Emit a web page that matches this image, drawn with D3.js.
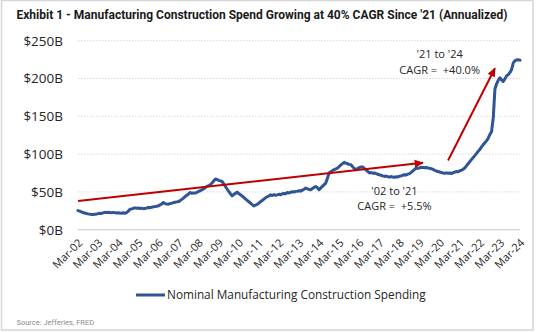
<!DOCTYPE html>
<html>
<head>
<meta charset="utf-8">
<script src="https://cdn.jsdelivr.net/npm/d3@7"></script>
<style>
  html, body { margin: 0; padding: 0; background: #fff; }
  svg { display: block; }
  .note { white-space: pre; }
</style>
</head>
<body>
<svg id="chart" width="536" height="332"></svg>
<script>
const title = "Exhibit 1 - Manufacturing Construction Spend Growing at 40% CAGR Since '21 (Annualized)"
const seriesName = "Nominal Manufacturing Construction Spending"
const sourceNote = "Source: Jefferies, FRED"

// monthly, $B annualized, starting Mar-02 (one row per Mar..Feb year)
const firstMonth = "2002-03"
const spending = [
  25.3, 24.5, 23.6, 22.8, 22.0, 21.4, 20.9, 20.6, 20.2, 20.0, 20.3, 20.6,
  21.2, 21.8, 21.5, 22.3, 23.0, 22.6, 23.1, 22.8, 22.3, 22.9, 22.6, 22.2,
  22.5, 22.0, 21.8, 22.4, 21.8, 22.6, 24.5, 27.0, 27.6, 28.3, 28.9, 28.4,
  28.6, 28.1, 28.5, 27.8, 28.0, 28.9, 29.4, 29.0, 29.8, 30.3, 30.6, 31.0,
  31.6, 32.8, 34.0, 36.0, 34.5, 33.9, 33.8, 34.6, 35.2, 35.9, 36.4, 36.8,
  37.2, 38.5, 40.1, 41.8, 43.9, 45.6, 47.3, 49.2, 48.1, 48.6, 48.4, 49.5,
  50.6, 51.5, 52.8, 54.0, 55.6, 57.4, 58.2, 59.4, 61.8, 64.5, 67.0, 66.4,
  65.2, 64.6, 63.8, 60.5, 57.2, 53.8, 50.5, 47.6, 44.8, 46.5, 48.2, 49.7,
  47.9, 46.3, 44.6, 42.6, 40.8, 38.9, 37.0, 35.1, 33.2, 31.5, 32.6, 33.4,
  35.2, 37.0, 38.6, 40.4, 42.2, 43.5, 44.6, 46.1, 45.2, 46.3, 45.6, 46.1,
  46.8, 46.2, 47.5, 48.0, 47.6, 49.2, 48.6, 49.5, 50.2, 49.8, 50.7, 51.0,
  51.5, 51.0, 52.3, 53.6, 55.0, 54.1, 53.2, 52.8, 54.6, 56.0, 57.2, 55.4,
  52.8, 55.3, 57.4, 59.6, 61.7, 68.5, 75.0, 76.8, 78.3, 79.5, 80.6, 81.6,
  83.5, 85.8, 87.4, 89.1, 88.0, 87.2, 86.4, 86.0, 83.2, 81.0, 79.4, 80.8,
  82.1, 83.0, 83.0, 81.2, 79.0, 77.0, 75.0, 75.6, 74.8, 75.0, 74.1, 73.3,
  72.6, 72.0, 71.2, 70.5, 70.9, 70.1, 69.5, 70.3, 69.6, 69.2, 70.0, 69.7,
  70.8, 71.2, 72.0, 72.7, 72.3, 73.5, 74.2, 75.8, 77.9, 79.8, 81.6, 81.0,
  81.8, 82.6, 82.4, 81.9, 82.3, 81.6, 81.2, 80.7, 79.8, 78.6, 77.7, 77.0,
  76.3, 75.6, 75.1, 74.5, 75.2, 74.6, 75.0, 74.3, 75.4, 76.1, 77.0, 76.5,
  78.0, 78.6, 80.0, 81.6, 84.4, 87.2, 90.1, 92.7, 95.4, 98.0, 100.9, 103.7,
  106.0, 109.5, 112.3, 114.9, 117.5, 121.0, 126.0, 130.0, 148.0, 186.0, 193.0, 198.0,
  201.0, 198.0, 196.0, 199.5, 203.5, 205.0, 208.0, 212.0, 221.0, 223.5, 224.5, 224.7,
  224.3
]

const xTickLabels = ["Mar-02", "Mar-03", "Mar-04", "Mar-05", "Mar-06", "Mar-07", "Mar-08",
  "Mar-09", "Mar-10", "Mar-11", "Mar-12", "Mar-13", "Mar-14", "Mar-15", "Mar-16", "Mar-17",
  "Mar-18", "Mar-19", "Mar-20", "Mar-21", "Mar-22", "Mar-23", "Mar-24"]
const yTicks = [0, 50, 100, 150, 200, 250]

// CAGR arrows and their notes, in [month, $B]
const arrows = [
  {from: ["2002-03", 38], to: ["2019-05", 88.5]},
  {from: ["2020-08", 91.5], to: ["2022-12", 213.5]}
]
const notes = [
  {at: ["2020-03", 227], lines: ["'21 to '24", "CAGR =  +40.0%"]},
  {at: ["2017-12", 46], lines: ["'02 to '21", "CAGR =  +5.5%"]}
]

const blue = '#2F5597'
const red = '#C00000'
const labelFont = "'Open Sans', 'Noto Sans', sans-serif"

const parseMonth = d3.timeParse('%Y-%m')
const parseTick = d3.timeParse('%b-%y')
const start = parseMonth(firstMonth)

const data = spending.map((v, i) => ({date: d3.timeMonth.offset(start, i), value: v}))

const x = d3.scaleTime()
  .domain([parseTick(xTickLabels[0]), parseTick(xTickLabels[xTickLabels.length - 1])])
  .range([78, 520])
const y = d3.scaleLinear().domain([0, 250]).range([229.7, 40.7])

const svg = d3.select('#chart')

svg.append('rect')
  .attr('x', 1.5).attr('y', 0.5)
  .attr('width', 531.5).attr('height', 329.5)
  .attr('fill', '#fff')
  .attr('stroke', '#d6d6d6')
  .attr('stroke-width', 1.5)

svg.append('text')
  .attr('x', 16.5).attr('y', 18.5)
  .attr('font-family', 'Roboto, sans-serif')
  .attr('font-weight', 700)
  .attr('font-size', 12)
  .attr('fill', '#1a1a1a')
  .text(title)

// gridlines
svg.append('g')
  .selectAll('line')
  .data(yTicks)
  .join('line')
  .attr('x1', x.range()[0]).attr('x2', x.range()[1])
  .attr('y1', d => y(d)).attr('y2', d => y(d))
  .attr('stroke', '#d9d9d9')
  .attr('stroke-width', d => d == 0 ? 1.5 : 1)
  .attr('stroke-dasharray', d => d == 0 ? null : '1.5,1.5')

// y axis
const yAxis = svg.append('g')
  .attr('transform', `translate(${x.range()[0]},0)`)
  .call(d3.axisLeft(y).tickValues(yTicks).tickSize(0).tickPadding(15).tickFormat(d => `$${d}B`))
yAxis.select('.domain').remove()
yAxis.selectAll('text')
  .attr('font-family', labelFont)
  .attr('font-size', 13.5)
  .attr('fill', '#262626')

// x axis
const xAxis = svg.append('g')
  .attr('transform', `translate(0,${y(0)})`)
  .call(d3.axisBottom(x)
    .tickValues(xTickLabels.map(parseTick))
    .tickSize(0)
    .tickFormat((d, i) => xTickLabels[i]))
xAxis.select('.domain').remove()
xAxis.selectAll('.tick text')
  .attr('font-family', labelFont)
  .attr('font-size', 11)
  .attr('fill', '#262626')
  .attr('text-anchor', 'end')
  .attr('x', 0).attr('y', 0).attr('dy', '0.35em')
  .attr('transform', 'translate(2,11) rotate(-45)')

// spending line
const line = d3.line()
  .x(d => x(d.date))
  .y(d => y(d.value))

svg.append('path')
  .datum(data)
  .attr('fill', 'none')
  .attr('stroke', blue)
  .attr('stroke-width', 3)
  .attr('stroke-linejoin', 'round')
  .attr('stroke-linecap', 'round')
  .attr('d', line)

// arrows
svg.append('defs').append('marker')
  .attr('id', 'head')
  .attr('viewBox', '0 -5 10 10')
  .attr('refX', 9).attr('refY', 0)
  .attr('markerUnits', 'userSpaceOnUse')
  .attr('markerWidth', 10).attr('markerHeight', 9)
  .attr('orient', 'auto')
  .append('path')
  .attr('d', 'M0,-4.5L10,0L0,4.5Z')
  .attr('fill', red)

svg.append('g')
  .selectAll('line')
  .data(arrows)
  .join('line')
  .attr('x1', d => x(parseMonth(d.from[0]))).attr('y1', d => y(d.from[1]))
  .attr('x2', d => x(parseMonth(d.to[0]))).attr('y2', d => y(d.to[1]))
  .attr('stroke', red)
  .attr('stroke-width', 2)
  .attr('marker-end', 'url(#head)')

const note = svg.append('g')
  .selectAll('text')
  .data(notes)
  .join('text')
  .attr('class', 'note')
  .attr('font-family', labelFont)
  .attr('font-size', 11)
  .attr('fill', '#262626')
  .attr('text-anchor', 'middle')
  .attr('transform', d => `translate(${x(parseMonth(d.at[0]))},${y(d.at[1])})`)
note.selectAll('tspan')
  .data(d => d.lines)
  .join('tspan')
  .attr('x', 0)
  .attr('dy', (d, i) => i == 0 ? 0 : 15.5)
  .text(d => d)

// legend
const legend = svg.append('g').attr('transform', 'translate(136,295)')
legend.append('line')
  .attr('x1', 0).attr('x2', 29)
  .attr('stroke', blue)
  .attr('stroke-width', 3)
legend.append('text')
  .attr('x', 31).attr('dy', '0.35em')
  .attr('font-family', labelFont)
  .attr('font-size', 11.8)
  .attr('fill', '#262626')
  .text(seriesName)

svg.append('text')
  .attr('x', 16.5).attr('y', 325)
  .attr('font-family', 'Roboto, sans-serif')
  .attr('font-size', 7.5)
  .attr('fill', '#8c8c8c')
  .text(sourceNote)
</script>
</body>
</html>
